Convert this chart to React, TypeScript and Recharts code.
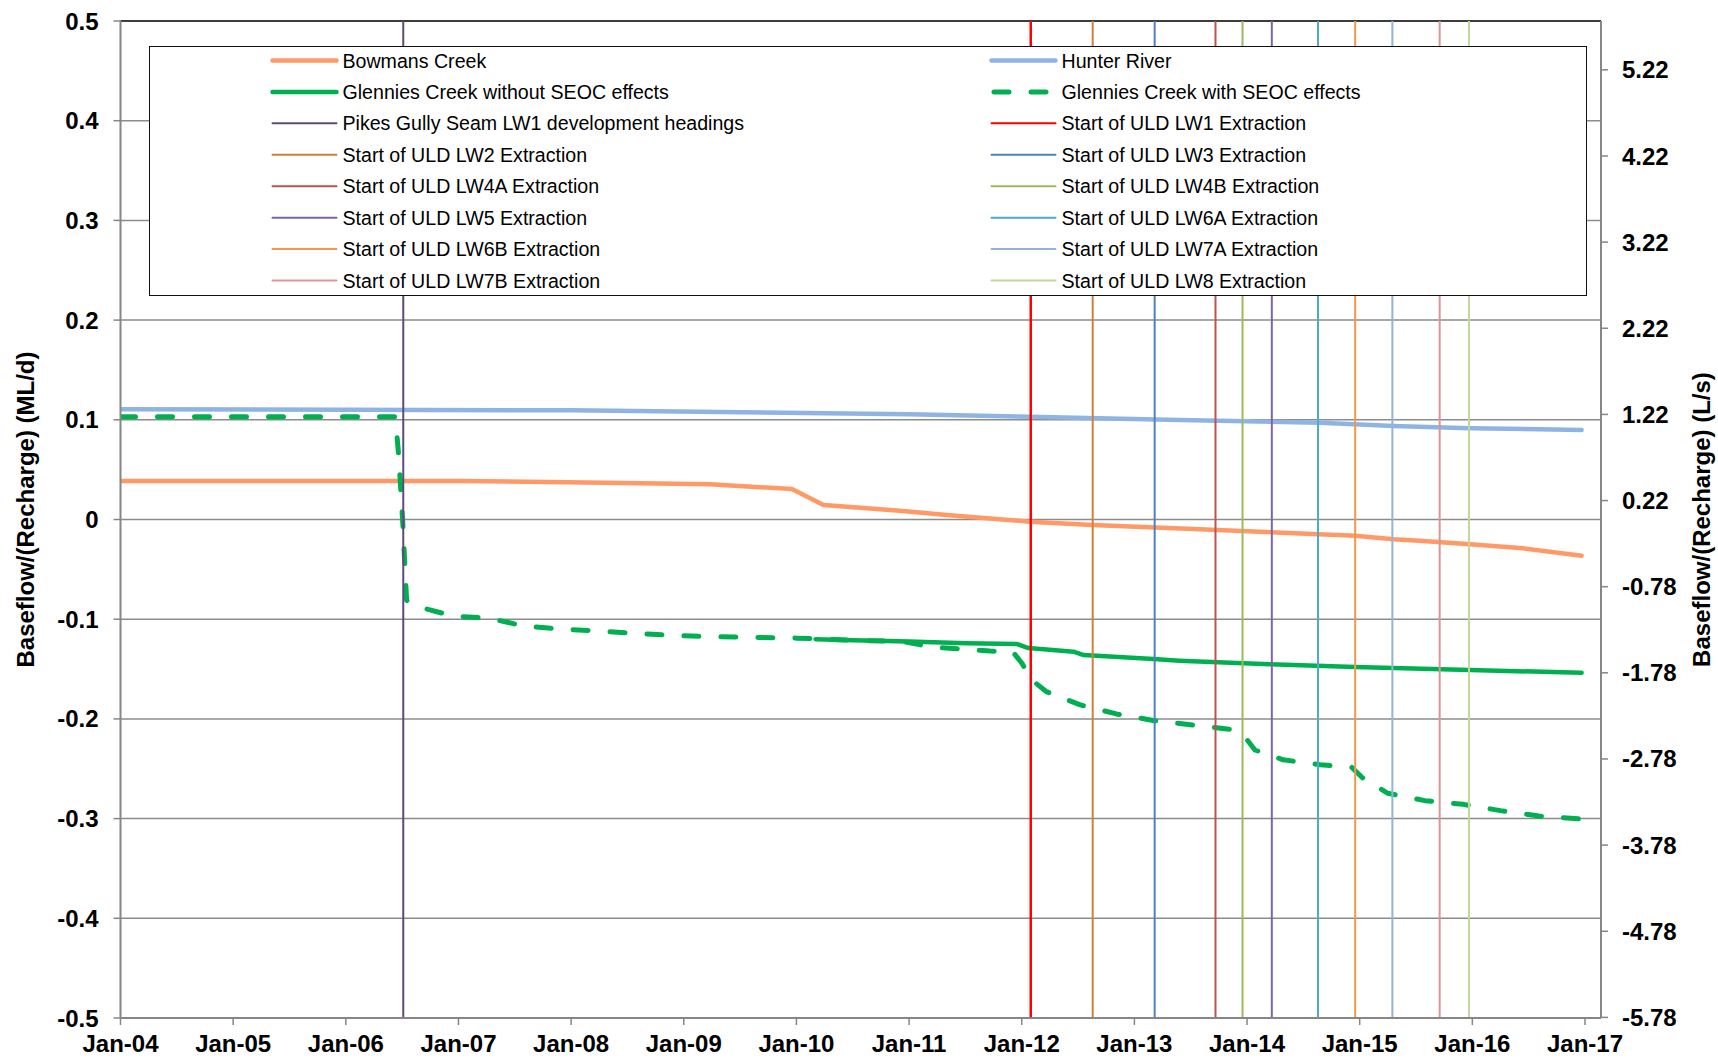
import React from 'react';
import { LineChart, Line, XAxis, YAxis, CartesianGrid, ReferenceLine, Legend } from 'recharts';

const FONT = '"Liberation Sans", Arial, Helvetica, sans-serif';

// ---- axis ticks ----
const xTickYears = [2004, 2005, 2006, 2007, 2008, 2009, 2010, 2011, 2012, 2013, 2014, 2015, 2016, 2017];
const xTickLabels = ['Jan-04', 'Jan-05', 'Jan-06', 'Jan-07', 'Jan-08', 'Jan-09', 'Jan-10', 'Jan-11', 'Jan-12', 'Jan-13', 'Jan-14', 'Jan-15', 'Jan-16', 'Jan-17'];
const leftTicks = [-0.5, -0.4, -0.3, -0.2, -0.1, 0, 0.1, 0.2, 0.3, 0.4, 0.5];
const rightTicks = [-5.78, -4.78, -3.78, -2.78, -1.78, -0.78, 0.22, 1.22, 2.22, 3.22, 4.22, 5.22];

// ---- series (decimal year, ML/d) ----
const hunterYears = [2004.0, 2006.0, 2008.0, 2009.14, 2011.0, 2012.07, 2013.4, 2014.65, 2015.3, 2015.98, 2016.97];
const hunterValues = [0.1105, 0.1102, 0.1095, 0.108, 0.1055, 0.103, 0.0998, 0.0971, 0.0938, 0.0915, 0.0898];

const bowmansYears = [2004.0, 2007.0, 2008.3, 2009.23, 2009.96, 2010.24, 2010.92, 2011.36, 2012.07, 2012.63, 2013.58, 2014.96, 2015.3, 2015.53, 2015.98, 2016.45, 2016.97];
const bowmansValues = [0.0386, 0.0386, 0.0369, 0.0353, 0.0306, 0.0145, 0.0088, 0.0042, -0.0022, -0.0055, -0.0098, -0.0162, -0.0199, -0.0213, -0.0249, -0.0289, -0.0363];

const glenWithoutYears = [2010.17, 2010.5, 2011.0, 2011.51, 2011.96, 2012.06, 2012.46, 2012.55, 2013.17, 2013.4, 2014.2, 2014.96, 2015.98, 2016.97];
const glenWithoutValues = [-0.12, -0.121, -0.1224, -0.1242, -0.1249, -0.129, -0.1326, -0.136, -0.14, -0.1416, -0.1452, -0.148, -0.151, -0.1537];

const glenWithYears = [2004.0, 2006.44, 2006.47, 2006.506, 2006.529, 2006.54, 2006.69, 2006.96, 2007.27, 2007.59, 2007.93, 2008.27, 2008.61, 2008.95, 2009.23, 2010.0, 2010.5, 2010.95, 2011.21, 2011.72, 2011.92, 2012.0, 2012.09, 2012.22, 2012.52, 2012.84, 2013.18, 2013.58, 2013.85, 2013.98, 2014.07, 2014.32, 2014.65, 2014.93, 2015.02, 2015.25, 2015.58, 2015.92, 2016.25, 2016.59, 2016.97];
const glenWithValues = [0.103, 0.103, 0.063, -0.004, -0.057, -0.081, -0.089, -0.097, -0.099, -0.107, -0.11, -0.112, -0.1146, -0.1165, -0.1175, -0.119, -0.121, -0.1226, -0.128, -0.132, -0.1326, -0.144, -0.161, -0.1727, -0.186, -0.195, -0.2018, -0.207, -0.2104, -0.218, -0.2312, -0.241, -0.246, -0.2486, -0.2586, -0.2746, -0.282, -0.2857, -0.292, -0.2974, -0.3004];

// ---- event markers (decimal year) ----
const eventNames = [
  'Pikes Gully Seam LW1 development headings',
  'Start of ULD LW1 Extraction',
  'Start of ULD LW2 Extraction',
  'Start of ULD LW3 Extraction',
  'Start of ULD LW4A Extraction',
  'Start of ULD LW4B Extraction',
  'Start of ULD LW5 Extraction',
  'Start of ULD LW6A Extraction',
  'Start of ULD LW6B Extraction',
  'Start of ULD LW7A Extraction',
  'Start of ULD LW7B Extraction',
  'Start of ULD LW8 Extraction',
];
const eventYears = [2006.51, 2012.08, 2012.63, 2013.18, 2013.72, 2013.96, 2014.22, 2014.63, 2014.96, 2015.29, 2015.71, 2015.97];

// ---- styles ----
const eventColors = ['#604A7B', '#FF0000', '#D0803E', '#4F81BD', '#C0504D', '#9BBB59', '#8064A2', '#4BACC6', '#F79646', '#95B3D7', '#D99694', '#C3D69B'];
const C_BOWMANS = '#FF9966';
const C_HUNTER = '#8EB4E3';
const C_GLEN = '#00B050';

const toData = (xs: number[], vs: number[]) => xs.map((x, i) => ({ x, v: vs[i] }));
const hunterData = toData(hunterYears, hunterValues);
const bowmansData = toData(bowmansYears, bowmansValues);
const glenWithoutData = toData(glenWithoutYears, glenWithoutValues);
const glenWithData = toData(glenWithYears, glenWithValues);

type LegendItem = { name: string; color: string; width: number; dash?: string };
const legendItems: LegendItem[] = [
  { name: 'Bowmans Creek', color: C_BOWMANS, width: 4.5 },
  { name: 'Hunter River', color: C_HUNTER, width: 4.5 },
  { name: 'Glennies Creek without SEOC effects', color: C_GLEN, width: 4.5 },
  { name: 'Glennies Creek with SEOC effects', color: C_GLEN, width: 5, dash: '15 22' },
  ...eventNames.map((n, i) => ({ name: n, color: eventColors[i], width: 2 })),
];

const LegendBox = () => {
  const W = 1438;
  const H = 250;
  const rowY = (r: number) => 13.5 + r * 31.43;
  const colLine = [122.5, 841.5];
  return (
    <div style={{ width: W, height: H, boxSizing: 'border-box', border: '1.5px solid #111', background: '#fff' }}>
      <svg width={W - 3} height={H - 3} style={{ display: 'block' }}>
        {legendItems.map((it, i) => {
          const r = Math.floor(i / 2);
          const c = i % 2;
          const y = rowY(r);
          const x0 = colLine[c];
          return (
            <g key={i}>
              <line
                x1={it.dash ? x0 + 2.5 : x0}
                x2={x0 + 64}
                y1={y}
                y2={y}
                stroke={it.color}
                strokeWidth={it.width}
                strokeDasharray={it.dash}
                strokeLinecap="round"
              />
              <text x={x0 + 70} y={y + 7} fontFamily={FONT} fontSize={19.6} fill="#000">
                {it.name}
              </text>
            </g>
          );
        })}
      </svg>
    </div>
  );
};

const LeftTitle = (props: any) => {
  const vb = props.viewBox || { x: 0, y: 21, width: 120, height: 997 };
  const cx = vb.x + 25;
  const cy = vb.y + vb.height / 2 - 10;
  return (
    <text x={cx} y={cy} transform={`rotate(-90 ${cx} ${cy})`} textAnchor="middle" dominantBaseline="central"
      fontFamily={FONT} fontSize={24} fontWeight="bold" fill="#000">
      Baseflow/(Recharge) (ML/d)
    </text>
  );
};

const RightTitle = (props: any) => {
  const vb = props.viewBox || { x: 1601, y: 21, width: 117, height: 997 };
  const cx = vb.x + 100;
  const cy = vb.y + vb.height / 2;
  return (
    <text x={cx} y={cy} transform={`rotate(-90 ${cx} ${cy})`} textAnchor="middle" dominantBaseline="central"
      fontFamily={FONT} fontSize={24} fontWeight="bold" fill="#000">
      Baseflow/(Recharge) (L/s)
    </text>
  );
};

const tickStyle = { fill: '#000', fontSize: 24, fontWeight: 'bold' as const, fontFamily: FONT };
const axisLineStyle = { stroke: '#868686', strokeWidth: 2 };
const tickLineStyle = { stroke: '#868686', strokeWidth: 1.5 };

export default function App() {
  return (
    <div style={{ position: 'absolute', left: 0, top: 0, width: 1718, height: 1060, background: '#fff' }}>
      <LineChart width={1718} height={1060} margin={{ top: 21, right: 0, bottom: 0, left: 0 }}>
        <CartesianGrid yAxisId="left" vertical={false} stroke="#8C8C8C" strokeWidth={1.5} />
        <XAxis
          dataKey="x"
          type="number"
          domain={[2004, 2017.142]}
          ticks={xTickYears}
          tickFormatter={(v: number) => xTickLabels[xTickYears.indexOf(v)]}
          allowDataOverflow
          height={42}
          tick={tickStyle}
          tickSize={7}
          tickMargin={10}
          axisLine={axisLineStyle}
          tickLine={tickLineStyle}
          interval={0}
        />
        <YAxis
          yAxisId="left"
          type="number"
          domain={[-0.5, 0.5]}
          ticks={leftTicks}
          tickFormatter={(v: number) => (v === 0 ? '0' : v.toFixed(1))}
          width={120.5}
          tick={tickStyle}
          tickSize={7}
          tickMargin={15}
          axisLine={axisLineStyle}
          tickLine={tickLineStyle}
          interval={0}
          allowDataOverflow
          label={{ content: (p: any) => <LeftTitle {...p} /> }}
        />
        <YAxis
          yAxisId="right"
          orientation="right"
          type="number"
          domain={[-5.787, 5.787]}
          ticks={rightTicks}
          tickFormatter={(v: number) => v.toFixed(2)}
          width={117}
          tick={tickStyle}
          tickSize={7}
          tickMargin={14}
          axisLine={axisLineStyle}
          tickLine={tickLineStyle}
          interval={0}
          allowDataOverflow
          label={{ content: (p: any) => <RightTitle {...p} /> }}
        />
        <ReferenceLine yAxisId="left" y={0.5} stroke="#1a1a1a" strokeWidth={1.5} />
        <Line yAxisId="left" data={bowmansData} dataKey="v" stroke={C_BOWMANS} strokeWidth={4.5} dot={false} isAnimationActive={false} strokeLinejoin="round" strokeLinecap="round" />
        <Line yAxisId="left" data={hunterData} dataKey="v" stroke={C_HUNTER} strokeWidth={4.5} dot={false} isAnimationActive={false} strokeLinejoin="round" strokeLinecap="round" />
        <Line yAxisId="left" data={glenWithoutData} dataKey="v" stroke={C_GLEN} strokeWidth={4.5} dot={false} isAnimationActive={false} strokeLinejoin="round" strokeLinecap="round" />
        <Line yAxisId="left" data={glenWithData} dataKey="v" stroke={C_GLEN} strokeWidth={5} strokeDasharray="15 22" dot={false} isAnimationActive={false} strokeLinejoin="round" strokeLinecap="round" />
        {eventYears.map((yr, i) => (
          <ReferenceLine key={eventNames[i]} yAxisId="left" x={yr} stroke={eventColors[i]} strokeWidth={i === 1 ? 2.5 : 2} />
        ))}
        <Legend
          layout="horizontal"
          verticalAlign="middle"
          align="center"
          wrapperStyle={{ position: 'absolute', left: 149, top: 46, width: 1438, height: 250, margin: 0, padding: 0 }}
          content={() => <LegendBox />}
        />
      </LineChart>
    </div>
  );
}
